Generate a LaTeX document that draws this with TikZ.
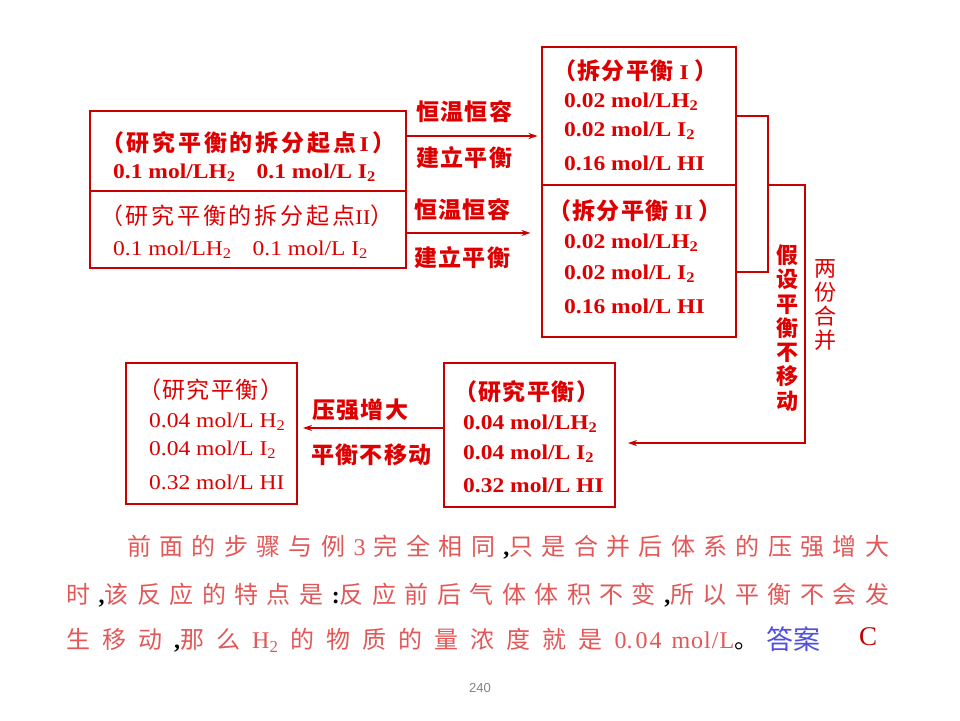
\documentclass[tikz,border=0pt]{standalone}
\usepackage{fontspec}
\setmainfont{Liberation Serif}
\newfontfamily\lat{Liberation Serif}[FakeStretch=1.12]
\newfontfamily\plat{Liberation Serif}
\newfontfamily\cjk{Noto Sans CJK SC}[LetterSpace=6]
\newfontfamily\cjkw{Noto Sans CJK SC}[LetterSpace=12]
\newfontfamily\pcjk{Noto Sans CJK SC}
\newfontfamily\sansf{Liberation Sans}
\usetikzlibrary{arrows.meta,calc}
\definecolor{boxred}{RGB}{200,0,0}
\definecolor{txtred}{RGB}{222,0,0}
\definecolor{parared}{RGB}{226,88,88}
\definecolor{ansblue}{RGB}{80,80,225}
\definecolor{ansred}{RGB}{190,0,0}
\definecolor{pagegray}{RGB}{130,130,130}
\newcommand{\zh}[1]{{\cjk\fontsize{23}{24}\selectfont #1}}
\newcommand{\zhw}[1]{{\cjkw\fontsize{23}{24}\selectfont #1}}
\newcommand{\chs}[1]{\textsubscript{#1}}
\newcommand{\bk}[1]{{\color{black}#1}}
\begin{document}
\begin{tikzpicture}[x=1pt,y=-1pt,
  boxnode/.style={draw=boxred, line width=1.4pt, rectangle, inner sep=0pt, outer sep=0pt},
  txt/.style={anchor=west, inner sep=0pt, text=txtred, font=\lat\bfseries\fontsize{21}{24}\selectfont},
  txtreg/.style={anchor=west, inner sep=0pt, text=txtred, font=\lat\fontsize{21}{24}\selectfont},
  lab/.style={anchor=west, inner sep=0pt, text=txtred, font=\cjk\bfseries\fontsize{23}{24}\selectfont},
  vlab/.style={inner sep=0pt, text=txtred, align=center, font=\pcjk\bfseries\fontsize{22}{24.3}\selectfont},
  para/.style={anchor=west, inner sep=0pt, text=parared, font=\pcjk\fontsize{24}{26}\selectfont},
  conn/.style={draw=boxred, line width=1.2pt},
  arr/.style={conn, -{Stealth[length=9pt,width=6pt]}}]
\useasboundingbox[fill=white] (0,0) rectangle (960,720);

% boxes
\node[boxnode, minimum width=316pt, minimum height=80pt] (A) at (248,151) {};
\node[boxnode, minimum width=316pt, minimum height=77pt] (B) at (248,229.5) {};
\node[boxnode, minimum width=194pt, minimum height=138pt] (C) at (639,116) {};
\node[boxnode, minimum width=194pt, minimum height=152pt] (D) at (639,261) {};
\node[boxnode, minimum width=171pt, minimum height=144pt] (E) at (529.5,435) {};
\node[boxnode, minimum width=171pt, minimum height=141pt] (F) at (211.5,433.5) {};

% box texts
\node[txt] (a1) at (101,143) {\zhw{（研究平衡的拆分起点}\,I\,\zh{）}};
\node[txt] (a2) at (113,173) {0.1 mol/LH\chs{2}\quad 0.1 mol/L I\chs{2}};
\node[txtreg] (b1) at (100,216) {\zhw{（研究平衡的拆分起点}II\zh{）}};
\node[txtreg] (b2) at (113,250) {0.1 mol/LH\chs{2}\quad 0.1 mol/L I\chs{2}};

\node[txt] (c1) at (553,71) {\zh{（拆分平衡}\ I\ \zh{）}};
\node[txt] (c2) at (564,102) {0.02 mol/LH\chs{2}};
\node[txt] (c3) at (564,131) {0.02 mol/L I\chs{2}};
\node[txt] (c4) at (564,163) {0.16 mol/L HI};

\node[txt] (d1) at (548,211) {\zh{（拆分平衡}\ II\ \zh{）}};
\node[txt] (d2) at (564,243) {0.02 mol/LH\chs{2}};
\node[txt] (d3) at (564,274) {0.02 mol/L I\chs{2}};
\node[txt] (d4) at (564,306) {0.16 mol/L HI};

\node[txt] (e1) at (454,392) {\zh{（研究平衡）}};
\node[txt] (e2) at (463,424) {0.04 mol/LH\chs{2}};
\node[txt] (e3) at (463,454) {0.04 mol/L I\chs{2}};
\node[txt] (e4) at (463,485) {0.32 mol/L HI};

\node[txtreg] (f1) at (138,390) {\zh{（研究平衡）}};
\node[txtreg] (f2) at (149,422) {0.04 mol/L H\chs{2}};
\node[txtreg] (f3) at (149,450) {0.04 mol/L I\chs{2}};
\node[txtreg] (f4) at (149,482) {0.32 mol/L HI};

% arrow labels
\node[lab] (l1) at (416,112) {恒温恒容};
\node[lab] (l2) at (416,158) {建立平衡};
\node[lab] (l3) at (414,210) {恒温恒容};
\node[lab] (l4) at (414,258) {建立平衡};
\node[lab] (l5) at (312,410) {压强增大};
\node[lab] (l6) at (311,455) {平衡不移动};

% connectors
\coordinate (p1) at ($(A.north east)!0.3125!(A.south east)$);
\draw[arr, shorten >=4.5pt] (p1) -- (p1 -| C.west);
\coordinate (p2) at ($(B.north east)!0.545!(B.south east)$);
\draw[arr, shorten >=11.5pt] (p2) -- (p2 -| D.west);

\coordinate (br1) at ([xshift=32pt]C.east);
\coordinate (q2) at ($(D.north east)!0.572!(D.south east)$);
\draw[conn] (C.east) -- (br1) |- (q2);

\coordinate (br2) at (br1 |- C.south east);
\coordinate (br3) at ([xshift=37pt]br2);
\coordinate (p3) at ($(E.north east)!0.556!(E.south east)$);
\draw[arr, shorten >=13pt] (br2) -- (br3) |- (p3);

\coordinate (p4) at ($(E.north west)!0.451!(E.south west)$);
\draw[arr, shorten >=6pt] (p4) -- (p4 -| F.east);

% vertical labels
\node[vlab] (v1) at (787,328) {假\\设\\平\\衡\\不\\移\\动};
\node[vlab, font=\pcjk\fontsize{22}{23.8}\selectfont] (v2) at (825,305) {两\\份\\合\\并};

% explanation paragraph
\node[para] (t1) at (127,547) {\makebox[762pt][s]{前 面 的 步 骤 与 例 {\plat 3} 完 全 相 同 \bk{\plat\bfseries ,}只 是 合 并 后 体 系 的 压 强 增 大}};
\node[para] (t2) at (66,595) {\makebox[823pt][s]{时 \bk{\plat\bfseries ,}该 反 应 的 特 点 是 \bk{\plat\bfseries :}反 应 前 后 气 体 体 积 不 变 \bk{\plat\bfseries ,}所 以 平 衡 不 会 发}};
\node[para] (t3) at (66,640) {\makebox[692pt][s]{生 移 动 \bk{\plat\bfseries ,}那 么 {\plat H\chs{2}} 的 物 质 的 量 浓 度 就 是 \mbox{\plat 0.\hspace{3pt}0\hspace{2pt}4\hspace{10pt}m\hspace{1pt}o\hspace{1pt}l\hspace{1pt}/\hspace{1pt}L}\bk{。}}};
\node[anchor=west, inner sep=0pt, text=ansblue, font=\pcjk\fontsize{27}{30}\selectfont] (ans) at (766,639) {答案};
\node[anchor=west, inner sep=0pt, text=ansred, font=\plat\fontsize{27}{30}\selectfont] (ansC) at (859,637) {C};

\node[inner sep=0pt, text=pagegray, font=\sansf\fontsize{13}{15}\selectfont] (pg) at (480,688) {240};
\end{tikzpicture}
\end{document}
